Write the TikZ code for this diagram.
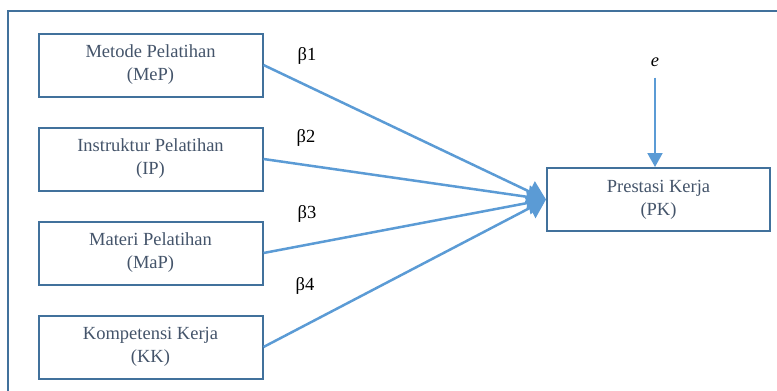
\documentclass[tikz,border=0pt]{standalone}
\usepackage{fontspec}
\setmainfont{Liberation Serif}
\usetikzlibrary{positioning,arrows.meta}
\definecolor{boxline}{HTML}{41719C}
\definecolor{arrowline}{HTML}{5B9BD5}
\definecolor{boxtext}{HTML}{44546A}

\begin{document}
\begin{tikzpicture}[%
        x=1pt, y=-1pt,
        every node/.style={font=\fontsize{18.5}{23}\selectfont, inner sep=0pt},
        varbox/.style={rectangle, draw=boxline, line width=2pt, text=boxtext, align=center,
          minimum width=224pt, minimum height=63pt},
        arrowto/.style={draw=arrowline, line width=2.5pt,
          -{Triangle[length=18pt,width=23pt,color=arrowline]}},
        node distance=29pt
      ]
      \useasboundingbox (0,0) rectangle (777,391);
      \draw [boxline, line width=2pt] (8,391) -- (8,11) -- (777,11);
      \node [] (mep) [varbox] at (150.5,65) {Metode Pelatihan\\(MeP)};
      \node [] (ip) [varbox, below=of mep] {Instruktur Pelatihan\\(IP)};
      \node [] (map) [varbox, below=of ip] {Materi Pelatihan\\(MaP)};
      \node [] (kk) [varbox, below=of map] {Kompetensi Kerja\\(KK)};
      \node [] (pk) [varbox, minimum width=223pt] at (658.5,199.5) {Prestasi Kerja\\(PK)};
      \node [] (e) at (655,62) {\textit{e}};
      \node [] (b1) at (307,56) {β1};
      \node [] (b2) at (306,138) {β2};
      \node [] (b3) at (307,214) {β3};
      \node [] (b4) at (305,286) {β4};
      \draw [arrowto] (mep.east) -- (pk.west);
      \draw [arrowto] (ip.east) -- (pk.west);
      \draw [arrowto] (map.east) -- (pk.west);
      \draw [arrowto] (kk.east) -- (pk.west);
      \draw [arrowto, line width=2pt, -{Triangle[length=14pt,width=15pt,color=arrowline]},
        shorten <=11pt] (e) -- (e |- pk.north);
    \end{tikzpicture}
\end{document}
